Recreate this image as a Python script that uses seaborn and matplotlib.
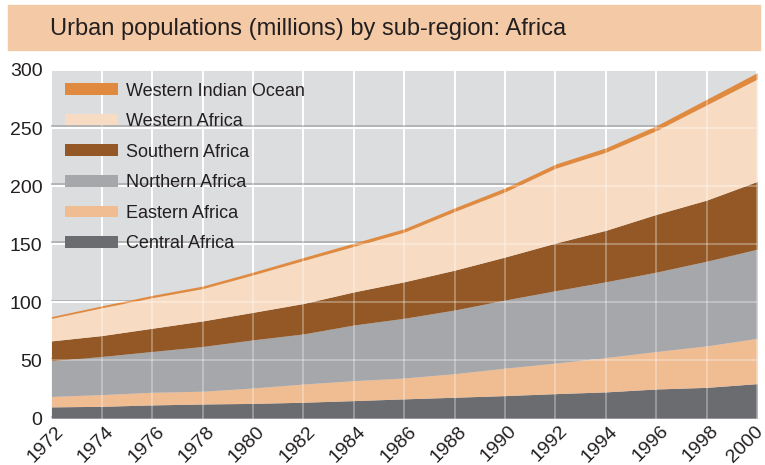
import numpy as np
import pandas as pd
import matplotlib.pyplot as plt
import matplotlib.patheffects as pe
import matplotlib.transforms as mtrans
from matplotlib.patches import Rectangle
import seaborn as sns

# values (millions), every two years
years = [1972, 1974, 1976, 1978, 1980, 1982, 1984, 1986, 1988, 1990, 1992, 1994, 1996, 1998, 2000]
central = [10, 10.5, 11.7, 12.5, 13, 14, 15.4, 16.9, 18.3, 19.7, 21.4, 22.9, 25.4, 26.8, 30]
eastern = [9, 10.1, 10.9, 11, 13.3, 15.7, 17.2, 18, 20.3, 23.7, 26.3, 29.6, 32.3, 35.7, 39]
northern = [30.7, 32.8, 35.1, 38.5, 41.4, 43.1, 47.9, 51.4, 54.8, 58.6, 62.3, 65.2, 68.3, 72.9, 76.7]
southern = [17.1, 18, 20, 22, 23.7, 26.2, 28.5, 31.4, 34.3, 37, 41, 44.3, 49.7, 52.6, 58.3]
western = [19.4, 23.9, 26.3, 27.8, 32.2, 37, 39.2, 42.7, 50.5, 56.1, 64.4, 67.2, 72.1, 82, 88.1]
w_indian = [1.5, 1.7, 2, 2.2, 2.4, 2.6, 2.8, 3, 3.2, 3.4, 3.6, 3.8, 4.2, 4.8, 5.5]

regions = ["Central Africa", "Eastern Africa", "Northern Africa",
           "Southern Africa", "Western Africa", "Western Indian Ocean"]
colors = ["#6B6C70", "#F0BD93", "#A6A7AA", "#935826", "#F7DCC3", "#E08A40"]

df = pd.DataFrame({"Central Africa": central, "Eastern Africa": eastern,
                   "Northern Africa": northern, "Southern Africa": southern,
                   "Western Africa": western, "Western Indian Ocean": w_indian},
                  index=years)

sns.set_theme(style="darkgrid")
plt.rcParams['font.family'] = ['Liberation Sans', 'DejaVu Sans']
txt = "#231F20"

fig = plt.figure(figsize=(7.65, 4.65), dpi=100)
fig.patch.set_facecolor("white")
fig.patches.append(Rectangle((8/765, 1-50/465), 752/765, 45/465,
                             transform=fig.transFigure, color="#F4C9A6", zorder=0))
fig.text(50/765, 1-35/465, "Urban populations (millions) by sub-region: Africa",
         va="baseline", ha="left", fontsize=17, color=txt)

ax = fig.add_axes([51.4/765, 46.5/465, 705.6/765, 348.5/465])
ax.set_facecolor("#DCDDDF")
stacks = ax.stackplot(df.index, [df[c] for c in regions], colors=colors,
                      labels=regions, linewidth=0, zorder=2)
ax.set_xlim(1972, 2000)
ax.set_ylim(0, 300)
ax.set_xticks(years)
ax.set_yticks(range(0, 301, 50))
ax.set_axisbelow(True)
ax.grid(True, color="white", lw=1.4)
for gl in ax.get_ygridlines():
    gl.set_path_effects([pe.SimpleLineShadow(offset=(0, 1.3), shadow_color="#B2B3B5", alpha=1), pe.Normal()])
# faint grid showing through the areas
for v in ax.get_yticks():
    ax.axhline(v, color="white", alpha=0.3, lw=1.4, zorder=3)
for v in ax.get_xticks():
    ax.axvline(v, color="white", alpha=0.3, lw=1.4, zorder=3)
for s in ax.spines.values():
    s.set_visible(False)
ax.tick_params(axis="both", length=0, labelsize=14, labelcolor=txt)
ax.tick_params(axis="y", pad=6.5)
ax.tick_params(axis="x", pad=3)
xlabs = ax.get_xticklabels()
for i, lab in enumerate(xlabs):
    lab.set_rotation(45)
    lab.set_ha("center")
    dx = -12 if i == len(xlabs) - 1 else -6
    lab.set_transform(lab.get_transform() + mtrans.ScaledTranslation(dx/100, 0, fig.dpi_scale_trans))

leg = ax.legend(stacks[::-1], regions[::-1], loc="upper left",
                bbox_to_anchor=(13.6/705.6, 1-12.5/348.5), frameon=False,
                fontsize=13, handlelength=2.93, handleheight=0.61,
                handletextpad=0.47, labelspacing=0.75, borderpad=0, borderaxespad=0)
for t in leg.get_texts():
    t.set_color(txt)

fig.savefig("out.png", dpi=100)
